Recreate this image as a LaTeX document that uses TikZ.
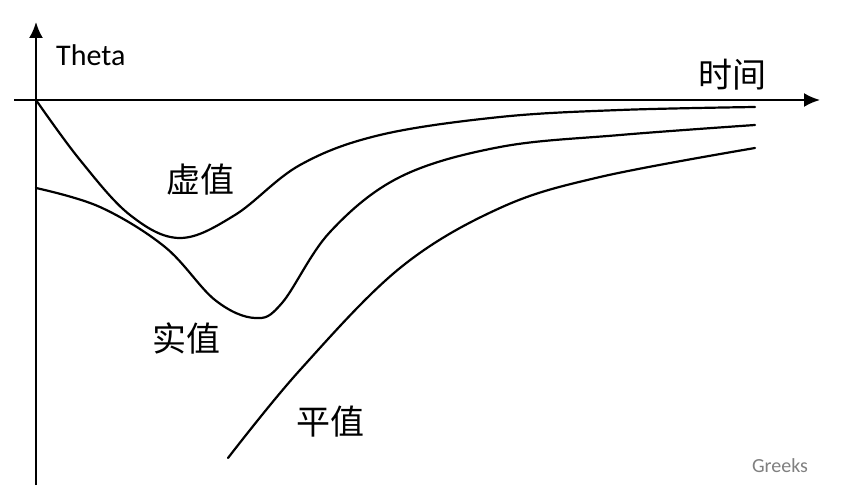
\documentclass[tikz,border=0pt]{standalone}
\usepackage{fontspec}
\setmainfont{Carlito}
\newfontfamily\cjk{Noto Sans CJK SC}
\begin{document}
\begin{tikzpicture}[x=1pt,y=-1pt,
  curve/.style={line width=2.2pt,line cap=round},
  axis/.style={line width=2.2pt,-{Latex[length=16pt,width=14pt]}},
  lbl/.style={font=\cjk\fontsize{34}{36}\selectfont,inner sep=0pt}]
\usetikzlibrary{arrows.meta}
\useasboundingbox[fill=white] (0,0) rectangle (849,502);
\coordinate (o) at (36,100);
\coordinate (ybot) at (36,485);
\coordinate (ytop) at (36,22);
\coordinate (xl) at (14,100);
\coordinate (xr) at (820,100);
\draw[axis] (ybot) -- (ytop);
\draw[axis] (xl) -- (xr);
\node[font=\fontsize{30}{32}\selectfont,anchor=west,inner sep=0pt] (theta) at (56,55) {Theta};
\node[lbl] (time) at (732,75) {时间};
\draw[curve] plot[smooth,tension=0.6] coordinates {(36,100) (80,160) (130,215) (180,238) (235,215) (300,165) (380,135) (500,117) (620,110) (755,107)};
\draw[curve] plot[smooth,tension=0.6] coordinates {(36,188) (100,207) (165,247) (215,300) (255,318) (282,303) (330,232) (400,177) (500,147) (620,135) (755,125)};
\draw[curve] plot[smooth,tension=0.6] coordinates {(228,458) (300,370) (400,268) (500,208) (600,177) (755,148)};
\node[lbl] (xu) at (200,180) {虚值};
\node[lbl] (shi) at (186,338) {实值};
\node[lbl] (ping) at (330,422) {平值};
\node[font=\fontsize{20}{22}\selectfont,text=gray,inner sep=0pt] (wm) at (780,466) {Greeks};
\end{tikzpicture}
\end{document}
